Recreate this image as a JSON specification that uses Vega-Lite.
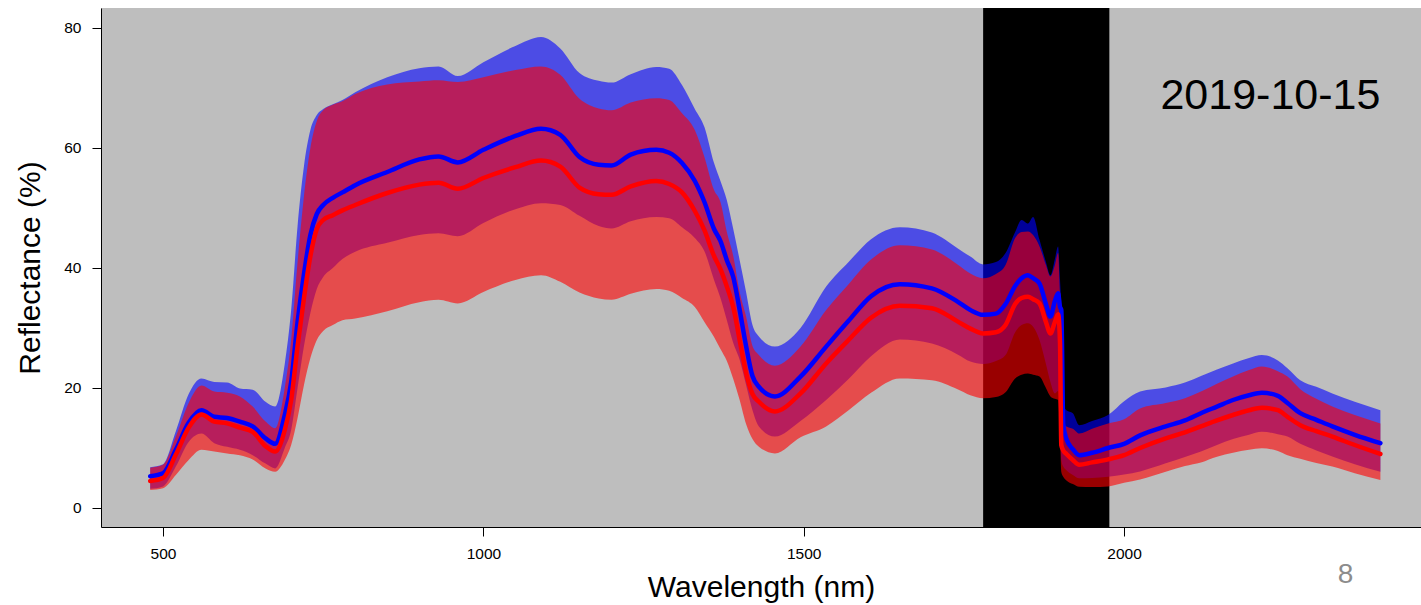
{
  "$schema": "https://vega.github.io/schema/vega-lite/v6.json",
  "autosize": {"type": "none"},
  "padding": {"left": 101, "top": 8, "right": 0, "bottom": 78},
  "width": 1320,
  "height": 519,
  "background": "white",
  "config": {
    "view": {"fill": "#BEBEBE", "stroke": null},
    "axis": {
      "grid": false,
      "domainColor": "black",
      "domainWidth": 1,
      "tickColor": "black",
      "tickWidth": 1,
      "tickSize": 9,
      "labelFont": "Liberation Sans",
      "labelFontSize": 15.5,
      "labelColor": "black",
      "titleFont": "Liberation Sans",
      "titleFontSize": 30,
      "titleFontWeight": "normal",
      "titleColor": "black"
    }
  },
  "datasets": {
    "spec": [
      {"wl": 480, "bu": 6.8, "ru": 6.7, "bm": 5.3, "rm": 4.5, "bl": 3.2, "rl": 3.0},
      {"wl": 500, "bu": 7.3, "ru": 7.2, "bm": 5.8, "rm": 5.0, "bl": 3.6, "rl": 3.3},
      {"wl": 520, "bu": 12.8, "ru": 11.9, "bm": 9.7, "rm": 8.9, "bl": 6.9, "rl": 5.5},
      {"wl": 540, "bu": 19.0, "ru": 17.5, "bm": 14.2, "rm": 13.4, "bl": 11.0, "rl": 8.0},
      {"wl": 560, "bu": 21.6, "ru": 20.4, "bm": 16.3, "rm": 15.6, "bl": 12.4, "rl": 9.7},
      {"wl": 580, "bu": 21.0, "ru": 19.4, "bm": 15.2, "rm": 14.4, "bl": 10.8, "rl": 9.4},
      {"wl": 600, "bu": 20.9, "ru": 19.2, "bm": 15.0, "rm": 14.1, "bl": 10.2, "rl": 9.1},
      {"wl": 620, "bu": 19.9, "ru": 18.6, "bm": 14.4, "rm": 13.4, "bl": 9.7, "rl": 8.8},
      {"wl": 640, "bu": 19.7, "ru": 16.9, "bm": 13.6, "rm": 12.7, "bl": 8.8, "rl": 8.1},
      {"wl": 660, "bu": 17.7, "ru": 14.4, "bm": 11.6, "rm": 10.3, "bl": 7.4, "rl": 6.6},
      {"wl": 675, "bu": 16.9, "ru": 13.3, "bm": 10.7, "rm": 9.4, "bl": 6.6, "rl": 6.05},
      {"wl": 690, "bu": 24.0, "ru": 20.0, "bm": 15.5, "rm": 13.0, "bl": 10.0, "rl": 8.0},
      {"wl": 700, "bu": 33.0, "ru": 28.0, "bm": 21.0, "rm": 18.0, "bl": 13.0, "rl": 10.5},
      {"wl": 710, "bu": 47.0, "ru": 41.0, "bm": 31.0, "rm": 27.0, "bl": 20.0, "rl": 15.0},
      {"wl": 720, "bu": 57.0, "ru": 52.0, "bm": 39.0, "rm": 35.0, "bl": 27.0, "rl": 20.5},
      {"wl": 730, "bu": 63.0, "ru": 60.0, "bm": 45.5, "rm": 42.0, "bl": 32.5, "rl": 25.0},
      {"wl": 740, "bu": 65.5, "ru": 64.5, "bm": 49.0, "rm": 46.5, "bl": 36.5, "rl": 28.0},
      {"wl": 750, "bu": 66.5, "ru": 66.3, "bm": 50.5, "rm": 48.0, "bl": 38.5, "rl": 29.5},
      {"wl": 765, "bu": 67.3, "ru": 67.2, "bm": 51.7, "rm": 48.8, "bl": 40.0, "rl": 30.5},
      {"wl": 780, "bu": 68.0, "ru": 67.8, "bm": 52.6, "rm": 49.6, "bl": 41.5, "rl": 31.3},
      {"wl": 800, "bu": 69.3, "ru": 69.0, "bm": 53.8, "rm": 50.5, "bl": 42.7, "rl": 31.6},
      {"wl": 850, "bu": 71.8, "ru": 70.6, "bm": 56.0, "rm": 52.5, "bl": 44.2, "rl": 32.8},
      {"wl": 900, "bu": 73.3, "ru": 71.1, "bm": 58.1, "rm": 53.9, "bl": 45.5, "rl": 34.3},
      {"wl": 930, "bu": 73.6, "ru": 71.3, "bm": 58.6, "rm": 54.2, "bl": 45.8, "rl": 34.7},
      {"wl": 960, "bu": 72.0, "ru": 71.0, "bm": 57.6, "rm": 53.2, "bl": 45.3, "rl": 34.1},
      {"wl": 1000, "bu": 74.3, "ru": 71.8, "bm": 59.7, "rm": 55.0, "bl": 47.5, "rl": 36.0},
      {"wl": 1050, "bu": 77.0, "ru": 73.0, "bm": 62.0, "rm": 56.8, "bl": 49.8, "rl": 38.0},
      {"wl": 1090, "bu": 78.5, "ru": 73.6, "bm": 63.2, "rm": 57.9, "bl": 50.8, "rl": 38.8},
      {"wl": 1120, "bu": 76.6, "ru": 72.2, "bm": 62.2, "rm": 56.9, "bl": 50.5, "rl": 37.7},
      {"wl": 1150, "bu": 72.5, "ru": 68.2, "bm": 58.5, "rm": 53.4, "bl": 48.7, "rl": 35.9},
      {"wl": 1180, "bu": 71.2, "ru": 66.6, "bm": 57.2, "rm": 52.3, "bl": 47.0, "rl": 34.9},
      {"wl": 1200, "bu": 70.9, "ru": 66.3, "bm": 57.1, "rm": 52.2, "bl": 46.6, "rl": 34.7},
      {"wl": 1230, "bu": 72.3, "ru": 67.6, "bm": 58.9, "rm": 53.6, "bl": 47.8, "rl": 35.7},
      {"wl": 1270, "bu": 73.5, "ru": 68.3, "bm": 59.7, "rm": 54.5, "bl": 48.5, "rl": 36.5},
      {"wl": 1290, "bu": 73.2, "ru": 68.0, "bm": 59.2, "rm": 54.0, "bl": 48.3, "rl": 36.2},
      {"wl": 1310, "bu": 70.5, "ru": 65.8, "bm": 57.5, "rm": 52.6, "bl": 46.8, "rl": 35.0},
      {"wl": 1330, "bu": 66.5, "ru": 63.0, "bm": 54.5, "rm": 49.5, "bl": 45.0, "rl": 33.5},
      {"wl": 1345, "bu": 63.5, "ru": 58.5, "bm": 51.0, "rm": 46.3, "bl": 42.8, "rl": 31.0},
      {"wl": 1360, "bu": 57.5, "ru": 53.0, "bm": 46.5, "rm": 42.0, "bl": 38.0, "rl": 28.5},
      {"wl": 1370, "bu": 54.5, "ru": 51.0, "bm": 44.5, "rm": 39.8, "bl": 35.0, "rl": 26.5},
      {"wl": 1380, "bu": 51.3, "ru": 46.0, "bm": 41.3, "rm": 36.9, "bl": 31.3, "rl": 24.5},
      {"wl": 1390, "bu": 46.5, "ru": 42.0, "bm": 38.5, "rm": 33.5, "bl": 27.5, "rl": 21.5},
      {"wl": 1400, "bu": 41.3, "ru": 36.0, "bm": 33.0, "rm": 28.0, "bl": 24.7, "rl": 18.0},
      {"wl": 1410, "bu": 36.0, "ru": 31.9, "bm": 27.0, "rm": 22.5, "bl": 20.5, "rl": 14.0},
      {"wl": 1420, "bu": 30.5, "ru": 27.0, "bm": 22.0, "rm": 19.0, "bl": 16.3, "rl": 11.5},
      {"wl": 1430, "bu": 28.6, "ru": 25.5, "bm": 20.2, "rm": 17.7, "bl": 13.6, "rl": 10.2},
      {"wl": 1455, "bu": 26.9, "ru": 23.7, "bm": 18.6, "rm": 16.1, "bl": 11.9, "rl": 9.1},
      {"wl": 1495, "bu": 30.0, "ru": 26.9, "bm": 21.9, "rm": 19.1, "bl": 14.5, "rl": 11.8},
      {"wl": 1535, "bu": 36.9, "ru": 33.0, "bm": 26.9, "rm": 24.1, "bl": 18.0, "rl": 13.6},
      {"wl": 1570, "bu": 41.0, "ru": 37.3, "bm": 31.2, "rm": 28.0, "bl": 21.5, "rl": 16.3},
      {"wl": 1605, "bu": 44.8, "ru": 41.4, "bm": 35.3, "rm": 31.7, "bl": 25.3, "rl": 19.2},
      {"wl": 1650, "bu": 46.8, "ru": 43.8, "bm": 37.3, "rm": 33.7, "bl": 28.1, "rl": 21.6},
      {"wl": 1700, "bu": 45.9, "ru": 43.1, "bm": 36.6, "rm": 33.3, "bl": 27.4, "rl": 21.3},
      {"wl": 1740, "bu": 43.3, "ru": 40.6, "bm": 34.4, "rm": 31.1, "bl": 25.6, "rl": 19.8},
      {"wl": 1760, "bu": 41.9, "ru": 39.1, "bm": 33.0, "rm": 29.9, "bl": 24.4, "rl": 18.8},
      {"wl": 1780, "bu": 40.6, "ru": 38.3, "bm": 32.2, "rm": 29.1, "bl": 24.0, "rl": 18.3},
      {"wl": 1800, "bu": 41.0, "ru": 39.0, "bm": 32.4, "rm": 29.3, "bl": 24.5, "rl": 18.5},
      {"wl": 1815, "bu": 42.5, "ru": 40.5, "bm": 34.0, "rm": 30.5, "bl": 25.5, "rl": 19.3},
      {"wl": 1830, "bu": 46.0, "ru": 45.0, "bm": 37.0, "rm": 34.0, "bl": 29.3, "rl": 21.6},
      {"wl": 1840, "bu": 48.0, "ru": 46.0, "bm": 38.3, "rm": 35.0, "bl": 30.5, "rl": 22.2},
      {"wl": 1850, "bu": 47.4, "ru": 46.1, "bm": 38.8, "rm": 35.2, "bl": 30.8, "rl": 22.4},
      {"wl": 1858, "bu": 48.5, "ru": 45.5, "bm": 38.3, "rm": 34.8, "bl": 30.2, "rl": 22.2},
      {"wl": 1868, "bu": 44.7, "ru": 43.6, "bm": 37.4, "rm": 34.1, "bl": 28.0, "rl": 21.9},
      {"wl": 1878, "bu": 41.0, "ru": 40.5, "bm": 34.0, "rm": 31.0, "bl": 24.0, "rl": 20.0},
      {"wl": 1885, "bu": 38.8, "ru": 38.6, "bm": 31.9, "rm": 29.1, "bl": 21.0, "rl": 18.6},
      {"wl": 1892, "bu": 41.5, "ru": 40.5, "bm": 34.5, "rm": 31.0, "bl": 19.1, "rl": 18.2},
      {"wl": 1897, "bu": 43.6, "ru": 42.5, "bm": 35.8, "rm": 32.3, "bl": 19.5, "rl": 18.0},
      {"wl": 1900, "bu": 38.0, "ru": 36.0, "bm": 33.5, "rm": 27.5, "bl": 15.0, "rl": 12.0},
      {"wl": 1902, "bu": 33.6, "ru": 33.0, "bm": 33.0, "rm": 10.5, "bl": 8.0, "rl": 6.0},
      {"wl": 1905, "bu": 17.0, "ru": 14.0, "bm": 14.0, "rm": 9.6, "bl": 6.9, "rl": 5.2},
      {"wl": 1910, "bu": 16.3, "ru": 13.6, "bm": 11.5, "rm": 9.0, "bl": 6.3, "rl": 4.6},
      {"wl": 1920, "bu": 15.8, "ru": 13.2, "bm": 9.8, "rm": 8.0, "bl": 5.5, "rl": 4.0},
      {"wl": 1930, "bu": 13.8, "ru": 12.4, "bm": 8.8, "rm": 7.2, "bl": 4.95, "rl": 3.55},
      {"wl": 1950, "bu": 14.5, "ru": 13.2, "bm": 9.2, "rm": 7.6, "bl": 5.0, "rl": 3.5},
      {"wl": 1975, "bu": 15.5, "ru": 14.1, "bm": 10.0, "rm": 8.1, "bl": 5.2, "rl": 3.6},
      {"wl": 2000, "bu": 17.8, "ru": 14.8, "bm": 10.7, "rm": 8.8, "bl": 5.6, "rl": 4.2},
      {"wl": 2025, "bu": 19.4, "ru": 16.6, "bm": 12.1, "rm": 10.0, "bl": 6.1, "rl": 4.75},
      {"wl": 2065, "bu": 20.1, "ru": 17.5, "bm": 13.6, "rm": 11.6, "bl": 7.45, "rl": 6.05},
      {"wl": 2095, "bu": 20.9, "ru": 18.3, "bm": 14.6, "rm": 12.6, "bl": 8.5, "rl": 7.0},
      {"wl": 2120, "bu": 22.0, "ru": 19.4, "bm": 15.8, "rm": 13.6, "bl": 9.4, "rl": 7.6},
      {"wl": 2145, "bu": 23.1, "ru": 20.7, "bm": 16.9, "rm": 14.6, "bl": 10.5, "rl": 8.55},
      {"wl": 2170, "bu": 24.1, "ru": 21.9, "bm": 18.0, "rm": 15.5, "bl": 11.5, "rl": 9.2},
      {"wl": 2195, "bu": 25.0, "ru": 23.0, "bm": 18.8, "rm": 16.3, "bl": 12.2, "rl": 9.7},
      {"wl": 2215, "bu": 25.5, "ru": 23.6, "bm": 19.2, "rm": 16.7, "bl": 12.7, "rl": 9.95},
      {"wl": 2240, "bu": 24.6, "ru": 22.8, "bm": 18.7, "rm": 16.3, "bl": 12.3, "rl": 9.5},
      {"wl": 2255, "bu": 23.3, "ru": 21.9, "bm": 17.5, "rm": 15.2, "bl": 11.9, "rl": 8.8},
      {"wl": 2275, "bu": 21.3, "ru": 19.8, "bm": 15.8, "rm": 13.8, "bl": 10.7, "rl": 8.2},
      {"wl": 2300, "bu": 20.2, "ru": 18.2, "bm": 14.7, "rm": 12.8, "bl": 9.6, "rl": 7.5},
      {"wl": 2325, "bu": 19.1, "ru": 16.9, "bm": 13.6, "rm": 11.9, "bl": 8.6, "rl": 6.9},
      {"wl": 2360, "bu": 17.7, "ru": 15.5, "bm": 12.2, "rm": 10.5, "bl": 7.3, "rl": 5.8},
      {"wl": 2400, "bu": 16.3, "ru": 14.1, "bm": 10.8, "rm": 9.0, "bl": 6.05, "rl": 4.67}
    ],
    "absorption": [{"start": 1780, "end": 1977}],
    "labels": [
      {"kind": "date", "text": "2019-10-15", "wl": 2400, "v": 66.45},
      {"kind": "page", "text": "8", "wl": 2345.7, "v": -12.55}
    ]
  },
  "encoding": {
    "x": {
      "field": "wl",
      "type": "quantitative",
      "scale": {"domain": [403.2, 2463.4], "nice": false, "zero": false},
      "axis": {
        "values": [500, 1000, 1500, 2000],
        "format": "d",
        "title": "Wavelength (nm)",
        "labelPadding": 10,
        "titlePadding": 11
      }
    }
  },
  "layer": [
    {
      "data": {"name": "absorption"},
      "mark": {"type": "rect", "color": "black", "opacity": 1},
      "encoding": {
        "x": {"field": "start", "type": "quantitative"},
        "x2": {"field": "end"}
      }
    },
    {
      "data": {"name": "spec"},
      "mark": {"type": "area", "color": "#0000FF", "opacity": 0.6, "interpolate": "monotone"},
      "encoding": {
        "y": {
          "field": "bl",
          "type": "quantitative",
          "scale": {"domain": [-3.167, 83.333], "nice": false, "zero": false},
          "axis": {
            "values": [0, 20, 40, 60, 80],
            "format": "d",
            "title": "Reflectance (%)",
            "labelPadding": 11,
            "titlePadding": 18
          }
        },
        "y2": {"field": "bu"}
      }
    },
    {
      "data": {"name": "spec"},
      "mark": {"type": "area", "color": "#FF0000", "opacity": 0.6, "interpolate": "monotone"},
      "encoding": {
        "y": {"field": "rl", "type": "quantitative"},
        "y2": {"field": "ru"}
      }
    },
    {
      "data": {"name": "spec"},
      "mark": {"type": "line", "color": "#0000FF", "strokeWidth": 4.5, "strokeJoin": "round", "strokeCap": "round", "interpolate": "monotone"},
      "encoding": {
        "y": {"field": "bm", "type": "quantitative"}
      }
    },
    {
      "data": {"name": "spec"},
      "mark": {"type": "line", "color": "#FF0000", "strokeWidth": 4.5, "strokeJoin": "round", "strokeCap": "round", "interpolate": "monotone"},
      "encoding": {
        "y": {"field": "rm", "type": "quantitative"}
      }
    },
    {
      "data": {"values": [{"top": 83.333}]},
      "mark": {"type": "rule", "color": "black", "strokeWidth": 1},
      "encoding": {
        "y": {"field": "top", "type": "quantitative"}
      }
    },
    {
      "data": {"name": "labels"},
      "transform": [{"filter": "datum.kind === 'date'"}],
      "mark": {"type": "text", "font": "Liberation Sans", "fontSize": 43, "align": "right", "baseline": "alphabetic", "color": "black"},
      "encoding": {
        "x": {"field": "wl", "type": "quantitative"},
        "y": {"field": "v", "type": "quantitative"},
        "text": {"field": "text"}
      }
    },
    {
      "data": {"name": "labels"},
      "transform": [{"filter": "datum.kind === 'page'"}],
      "mark": {"type": "text", "font": "Liberation Sans", "fontSize": 28, "align": "center", "baseline": "alphabetic", "color": "#8C8C8C"},
      "encoding": {
        "x": {"field": "wl", "type": "quantitative"},
        "y": {"field": "v", "type": "quantitative"},
        "text": {"field": "text"}
      }
    }
  ]
}
